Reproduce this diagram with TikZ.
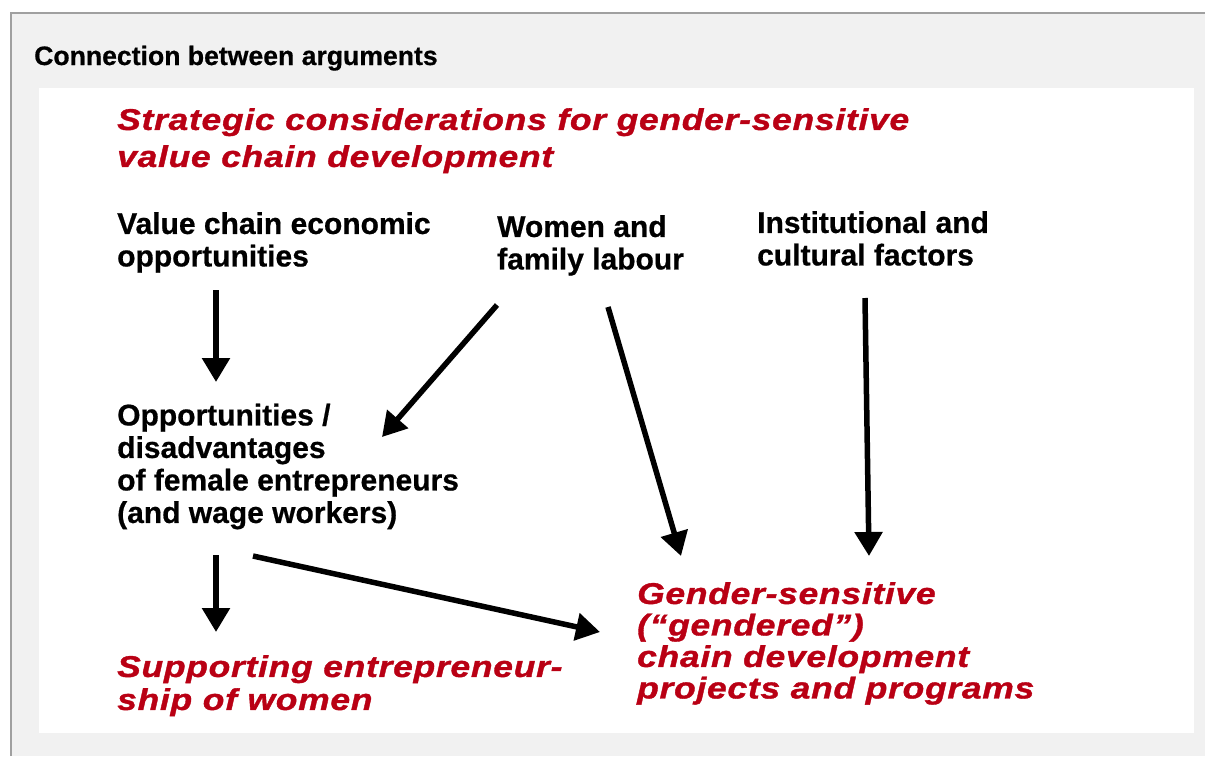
\documentclass[tikz,border=0pt]{standalone}
\usepackage{fontspec}
\setmainfont{Liberation Sans}
\newfontface\redfont{Liberation Sans Bold Italic}[FakeStretch=1.18,LetterSpace=2.5,FakeBold=1.2]
\newfontface\blkfont{Liberation Sans Bold}[FakeBold=0.6]
\usetikzlibrary{arrows.meta}
\definecolor{bgray}{HTML}{F1F1F1}
\definecolor{bline}{HTML}{A0A0A0}
\definecolor{dred}{RGB}{185,0,20}
\begin{document}
\begin{tikzpicture}[x=1pt,y=-1pt,
  lbl/.style={anchor=north west, inner sep=0pt, align=left,
    font=\blkfont\fontsize{30}{32.5}\selectfont},
  redlbl/.style={anchor=north west, inner sep=0pt, align=left, text=dred,
    font=\redfont\fontsize{30}{#1}\selectfont},
  arr/.style={line width=5.5pt, -{Triangle[width=27pt,length=24pt]}}]
\useasboundingbox (0,0) rectangle (1205,756);
\fill[bgray] (11,13) rectangle (1205,756);
\draw[bline, line width=1.3pt] (11,756) -- (11,13) -- (1205,13);
\fill[white] (39,88) rectangle (1194,733);

\node[anchor=base west, inner sep=0pt, font=\blkfont\fontsize{26.6}{30}\selectfont] (title) at (34,65) {Connection between arguments};

\node[redlbl=37] (strat) at (117,108) {Strategic considerations for gender-sensitive\\value chain development};

\node[lbl] (vc) at (117,212) {Value chain economic\\opportunities};
\node[lbl] (wf) at (497,215) {Women and\\family labour};
\node[lbl] (ic) at (757,211) {Institutional and\\cultural factors};
\node[lbl] (od) at (117,403.5) {Opportunities /\\disadvantages\\of female entrepreneurs\\(and wage workers)};

\node[redlbl=33] (sup) at (117,655) {Supporting entrepreneur-\\ship of women};
\node[redlbl=31.5] (gs) at (637,582) {Gender-sensitive\\(“gendered”)\\chain development\\projects and programs};

\coordinate (a1s) at (216,290); \coordinate (a1e) at (216,382);
\coordinate (a2s) at (497,305); \coordinate (a2e) at (382,437);
\coordinate (a3s) at (608,307); \coordinate (a3e) at (681,556);
\coordinate (a4s) at (865,298); \coordinate (a4e) at (869,556);
\coordinate (a5s) at (216,555); \coordinate (a5e) at (216,632);
\coordinate (a6s) at (253,556); \coordinate (a6e) at (600,632);

\draw[arr] (a1s) -- (a1e);
\draw[arr] (a2s) -- (a2e);
\draw[arr] (a3s) -- (a3e);
\draw[arr] (a4s) -- (a4e);
\draw[arr] (a5s) -- (a5e);
\draw[arr] (a6s) -- (a6e);
\end{tikzpicture}
\end{document}
